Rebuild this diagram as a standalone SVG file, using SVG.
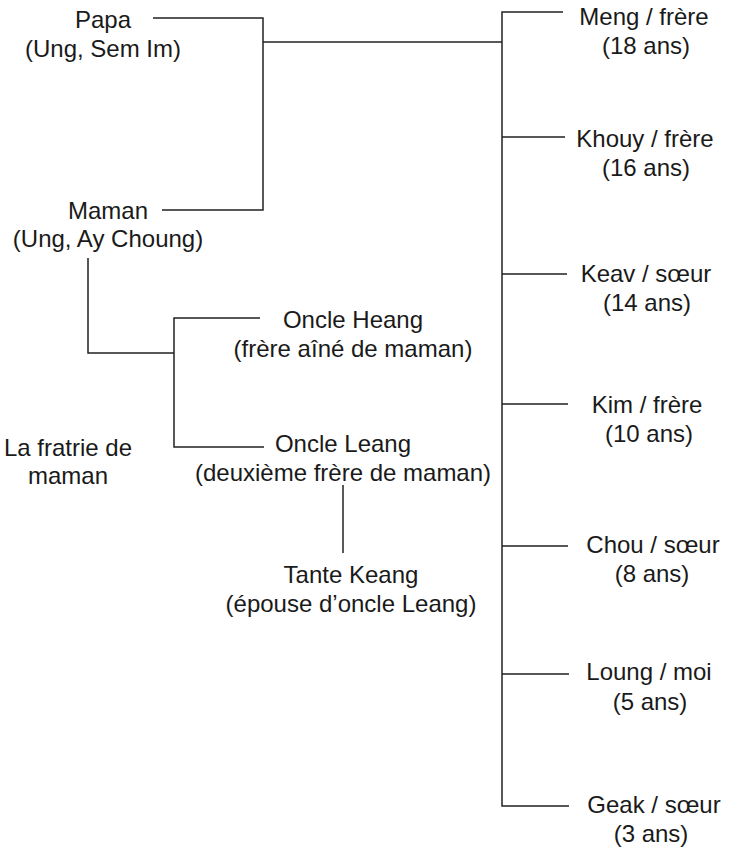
<svg xmlns="http://www.w3.org/2000/svg" width="731" height="847" viewBox="0 0 731 847">
<style>
text{font-family:"Liberation Sans",Arial,sans-serif;font-size:24px;fill:#1a1a1a;text-anchor:middle}
.c{fill:none;stroke:#222;stroke-width:1.5}
</style>
<rect width="731" height="847" fill="#fff"/>
<g id="connectors">
<path class="c" d="M153 18H263V210H162"/>
<path class="c" d="M263 42H502"/>
<path class="c" d="M563 12H502V806H569"/>
<path class="c" d="M502 137H565M502 274H567M502 404H568M502 546H568M502 674H569"/>
<path class="c" d="M88 258V353H174"/>
<path class="c" d="M260 318H174V447H264"/>
<path class="c" d="M343 485V553"/>
</g>
<g id="papa"><text x="103" y="28">Papa</text><text x="103" y="57">(Ung, Sem Im)</text></g>
<g id="maman"><text x="108" y="219">Maman</text><text x="108" y="247">(Ung, Ay Choung)</text></g>
<g id="heang"><text x="353" y="328">Oncle Heang</text><text x="353" y="357">(frère aîné de maman)</text></g>
<g id="leang"><text x="343" y="452">Oncle Leang</text><text x="343" y="481">(deuxième frère de maman)</text></g>
<g id="fratrie"><text x="68" y="456">La fratrie de</text><text x="68" y="484">maman</text></g>
<g id="keang"><text x="351" y="583">Tante Keang</text><text x="351" y="612">(épouse d’oncle Leang)</text></g>
<g id="meng"><text x="644" y="25">Meng / frère</text><text x="646" y="54">(18 ans)</text></g>
<g id="khouy"><text x="645" y="147">Khouy / frère</text><text x="646" y="176">(16 ans)</text></g>
<g id="keav"><text x="646" y="282">Keav / sœur</text><text x="647" y="311">(14 ans)</text></g>
<g id="kim"><text x="647" y="413">Kim / frère</text><text x="649" y="442">(10 ans)</text></g>
<g id="chou"><text x="653" y="553">Chou / sœur</text><text x="652" y="582">(8 ans)</text></g>
<g id="loung"><text x="649" y="680">Loung / moi</text><text x="650" y="710">(5 ans)</text></g>
<g id="geak"><text x="654" y="813">Geak / sœur</text><text x="651" y="842">(3 ans)</text></g>
</svg>
